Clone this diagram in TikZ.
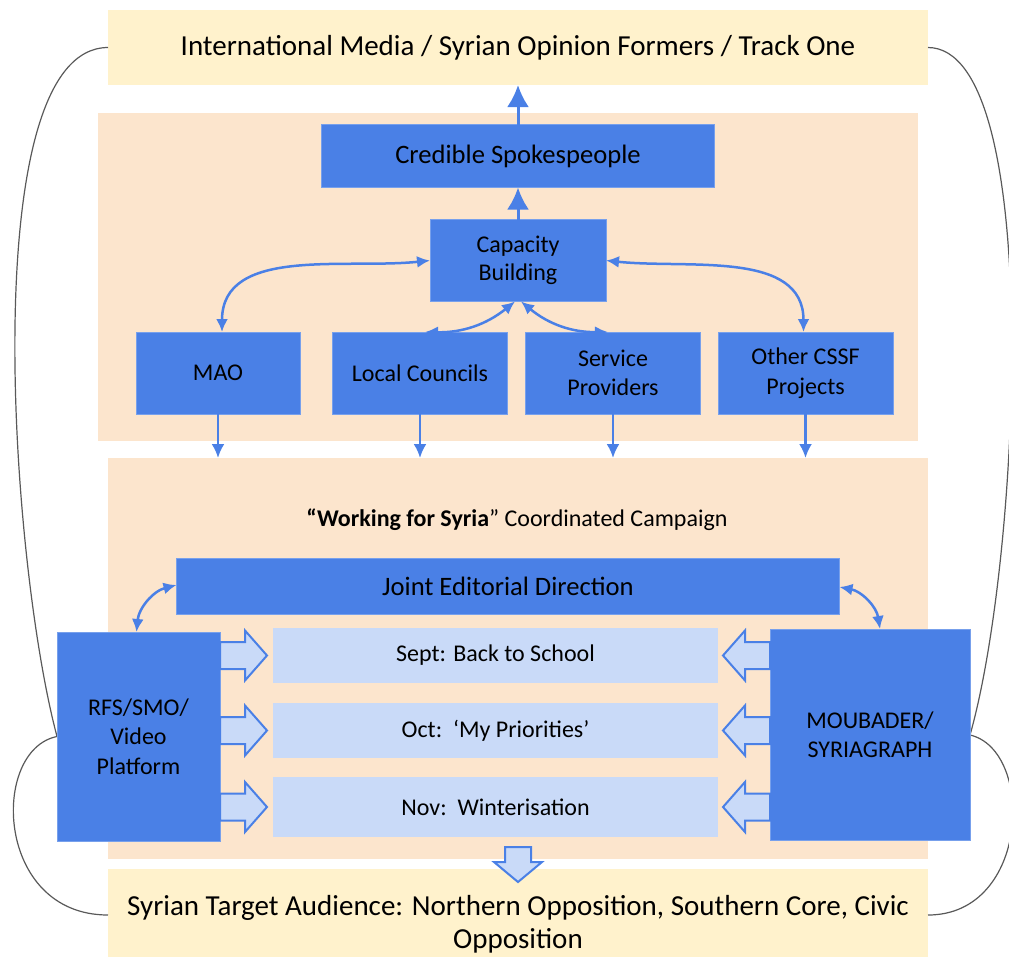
\documentclass[tikz,border=0pt]{standalone}
\usepackage{fontspec}
\setmainfont{Carlito}
\usetikzlibrary{arrows.meta,calc}

\definecolor{cornflower}{HTML}{4A80E6}
\definecolor{paleblue}{HTML}{C9DAF8}
\definecolor{peach}{HTML}{FCE5CD}
\definecolor{cream}{HTML}{FFF2CC}

% hollow block arrows, drawn from the middle of their back end
\newcommand{\fatright}[1]{\draw[fat] (#1) ++(0,-13.5) -- ++(25,0) -- ++(0,-11.5) -- ++(22,25) -- ++(-22,25) -- ++(0,-11.5) -- ++(-25,0) -- cycle;}
\newcommand{\fatleft}[1]{\draw[fat] (#1) ++(0,-13.5) -- ++(-25,0) -- ++(0,-11.5) -- ++(-22,25) -- ++(22,25) -- ++(0,-11.5) -- ++(25,0) -- cycle;}
\newcommand{\fatdown}[1]{\draw[fat] (#1) ++(-13,0) -- ++(0,15) -- ++(-11,0) -- ++(24,20) -- ++(24,-20) -- ++(-11,0) -- ++(0,-15) -- cycle;}

\begin{document}
\begin{tikzpicture}[x=1pt,y=-1pt,
  every node/.style={align=center, inner sep=0pt, outer sep=0pt},
  band/.style={fill=cream, minimum width=820, font=\fontsize{29}{33}\selectfont},
  region/.style={fill=peach, minimum width=820},
  box/.style={fill=cornflower, draw=cornflower!75!white, line width=0.8pt, font=\fontsize{24}{29.5}\selectfont},
  month/.style={fill=paleblue, minimum width=445, minimum height=55, font=\fontsize{24}{29}\selectfont},
  flow/.style={-{Latex[length=22pt,width=22pt]}, cornflower, line width=3pt},
  feed/.style={-{Latex[length=14pt,width=13pt]}, cornflower, line width=2.5pt},
  link/.style={{Latex[length=13pt,width=12pt]}-{Latex[length=13pt,width=12pt]}, cornflower, line width=2.5pt},
  sweep/.style={draw=black!65, line width=1.2pt},
  fat/.style={fill=paleblue, draw=cornflower, line width=2pt, line join=miter}]

\useasboundingbox (0,0) rectangle (1009,956);

% Background bands and regions
\node[band, minimum height=75] (media) at (518,47.5) {International Media / Syrian Opinion Formers / Track One};
\node[region, minimum height=328] (capregion) at (508,276.5) {};
\node[region, minimum height=401] (campaign) at (518,658.5) {};
\node[band, minimum height=110] (audience) at (518,924) {Syrian Target Audience: Northern Opposition, Southern Core, Civic\\Opposition};

% Outer feedback curves
\draw[sweep] (media.west) .. controls (-25,48) and (10,560) .. (57,736.5);
\draw[sweep] (57,736.5) .. controls (-10,750) and (-5,915) .. ($(audience.north west)+(0,46)$);
\draw[sweep] (media.east) .. controls (1045,48) and (1020,560) .. (970,735);
\draw[sweep] (970,735) .. controls (1035,750) and (1030,915) .. ($(audience.north east)+(0,46)$);

% Upper region
\node[box, minimum width=393, minimum height=63, font=\fontsize{26.6}{30}\selectfont] (spokes) at (518,156) {Credible Spokespeople};
\node[box, minimum width=176, minimum height=82] (capacity) at (518,260.5) {\raisebox{-2pt}{Capacity}\\Building};
\node[box, minimum width=164, minimum height=82] (mao) at (218,373) {MAO};
\node[box, minimum width=175, minimum height=82] (councils) at (420,373) {Local Councils};
\node[box, minimum width=175, minimum height=82] (providers) at (613,373) {Service\\Providers};
\node[box, minimum width=175, minimum height=82] (othercssf) at (805.5,373) {Other CSSF\\Projects};

% Lower region
\node[font=\fontsize{24}{28}\selectfont] (title) at (517,520) {\textbf{“Working for Syria}” Coordinated Campaign};
\node[box, minimum width=663, minimum height=56, font=\fontsize{26.6}{30}\selectfont] (editorial) at (508,586) {Joint Editorial Direction};
\node[box, minimum width=163, minimum height=209] (rfs) at (138.5,736.5) {RFS/SMO/\\Video\\Platform};
\node[box, minimum width=200, minimum height=211] (moubader) at (870,734.5) {MOUBADER/\\SYRIAGRAPH};
\node[month] (sept) at (495.5,655.5) {Sept: Back to School};
\node[month] (oct) at (495.5,730.5) {Oct:\ \ ‘My Priorities’};
\node[month, minimum height=60] (nov) at (495.5,807) {Nov:\ \ Winterisation};

% Draw the arrows between the nodes
\draw[flow] (spokes) -- (media);
\draw[flow] (capacity) -- (spokes);
\draw[link] (capacity.west) to[out=186,in=90] ([xshift=4pt]mao.north);
\draw[link] (capacity.east) to[out=-6,in=90] ([xshift=-2pt]othercssf.north);
\draw[link] ([xshift=-3pt]capacity.south) to[bend left=20] ([xshift=5pt]councils.north);
\draw[link] ([xshift=3pt]capacity.south) to[bend right=20] ([xshift=-5pt]providers.north);
\foreach \n in {mao,councils,providers,othercssf}
  \draw[feed] (\n.south) -- (\n.south |- campaign.north);
\draw[link] ([yshift=1pt]editorial.west) to[bend right=35] ([xshift=-2pt]rfs.north);
\draw[link] ([yshift=-1pt]editorial.east) to[bend left=35] ([xshift=10pt]moubader.north);

% Block arrows into the monthly themes
\foreach \m in {sept,oct,nov}{
  \fatright{rfs.east |- \m.west}
  \fatleft{moubader.west |- \m.east}
}
\fatdown{$(campaign.south)+(0,-12)$}

\end{tikzpicture}
\end{document}
